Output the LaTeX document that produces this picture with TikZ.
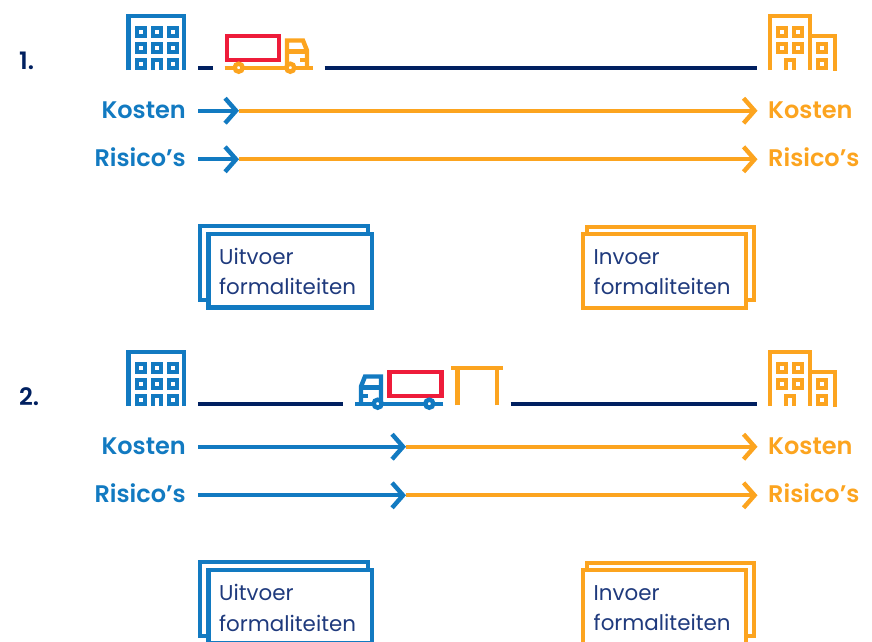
\documentclass[tikz,border=0pt]{standalone}
\usepackage{fontspec}
\setmainfont{Poppins}[BoldFont={Poppins SemiBold}]
\usetikzlibrary{arrows.meta}
\definecolor{bblue}{HTML}{127AC1}
\definecolor{oorange}{HTML}{FCA41F}
\definecolor{rred}{HTML}{EE1C3A}
\definecolor{nnavy}{HTML}{002060}
\definecolor{ttext}{HTML}{1F3A7D}
\tikzset{
    >={Straight Barb[length=11pt,width=25pt,line width=4.4pt]},
    wall/.style={line width=4.4pt},
    road/.style={line width=4.2pt, nnavy},
    flow/.style={line width=4.2pt, ->},
    cost/.style={font=\bfseries\fontsize{24}{28}\selectfont, inner sep=0pt},
    formal/.style={font=\fontsize{21.4}{30}\selectfont, text=ttext, align=left, inner sep=0pt, anchor=north west},
    % one window of a building
    pics/win/.style={code={\draw[wall] (-4,-4) rectangle (4,4);}},
    pics/exporter/.style={code={
        \draw[wall, bblue] (128.5,70) -- (128.5,16) -- (184,16) -- (184,70);
        \foreach \wx/\wy in {141/32,157/32,173/32,141/48,157/48,173/48,141/64,173/64}
            \pic[bblue] at (\wx,\wy) {win};
        \draw[wall, bblue] (153,70) -- (153,60) -- (161,60) -- (161,70);
    }},
    pics/importer/.style={code={
        \draw[wall, oorange] (770,70) -- (770,16) -- (810,16) -- (810,70);
        \draw[wall, oorange] (810,36) -- (835,36) -- (835,71);
        \foreach \wx/\wy in {782/32,798/32,782/48,798/48,822/48,822/64}
            \pic[oorange] at (\wx,\wy) {win};
        \draw[wall, oorange] (786,70) -- (786,60) -- (794,60) -- (794,70);
    }},
    % truck drawn with its nose to the right
    pics/truck/.style={code={
        \draw[wall, rred] (226.7,36) rectangle (278.7,60);
        \draw[wall, #1] (224.7,67.7) -- (312.7,67.7);
        \draw[wall, #1] (287,67) -- (287,40.5) -- (303,40.5) -- (307,50.5) -- (307,67);
        \draw[wall, #1] (287,51.5) -- (307,51.5);
        \draw[wall, #1] (300,60) -- (307,60);
        \draw[wall, #1, fill=white] (238.7,67.7) circle (4);
        \draw[wall, #1, fill=white] (290.3,67.7) circle (4);
    }},
}
\begin{document}
\begin{tikzpicture}[x=1pt, y=-1pt]
    \useasboundingbox (0,0) rectangle (872,641);
    \clip (0,0) rectangle (872,641);

    \foreach \n/\dy/\xt in {1/0/239, 2/336/406} {
    \begin{scope}[shift={(0,\dy)}]
        \node[cost, nnavy, anchor=west] (num\n) at (19,61) {\n.};
        \pic at (0,0) {exporter};
        \pic at (0,0) {importer};

        \node[cost, bblue, anchor=east] (kostenl\n) at (186,110) {Kosten};
        \node[cost, bblue, anchor=east] (risicol\n) at (186,157.5) {Risico’s};
        \node[cost, oorange, anchor=west] (kostenr\n) at (768,110) {Kosten};
        \node[cost, oorange, anchor=west] (risicor\n) at (768,157.5) {Risico’s};

        \coordinate (ka\n) at (198,110.7);
        \coordinate (kb\n) at (\xt,110.7);
        \coordinate (kc\n) at (757.5,110.7);
        \coordinate (ra\n) at (198,159.3);
        \coordinate (rb\n) at (\xt,159.3);
        \coordinate (rc\n) at (757.5,159.3);

        \draw[flow, oorange] (kb\n) -- (kc\n);      % rest of the way
        \draw[flow, bblue] (ka\n) -- (kb\n);        % up to the hand-over
        \draw[flow, oorange] (rb\n) -- (rc\n);
        \draw[flow, bblue] (ra\n) -- (rb\n);

        % stacked boxes
        \draw[wall, bblue] (200,226) rectangle (368,300);
        \draw[wall, bblue, fill=white] (208.5,234) rectangle (372,307.5);
        \node[formal] (uitvoer\n) at (219,248.5) {Uitvoer\\formaliteiten};
        \draw[wall, oorange] (587,227) rectangle (753.7,300);
        \draw[wall, oorange, fill=white] (583,234) rectangle (745.7,308);
        \node[formal] (invoer\n) at (593.5,249.3) {Invoer\\formaliteiten};
    \end{scope}
    }

    % first panel: truck still at the exporter
    \coordinate (roada1) at (198,67.7);
    \coordinate (roadb1) at (212.7,67.7);
    \coordinate (roadc1) at (324.7,67.7);
    \coordinate (roadd1) at (757,67.7);
    \draw[road] (roada1) -- (roadb1);
    \draw[road] (roadc1) -- (roadd1);
    \pic at (0,0) {truck=oorange};

    % second panel: truck at the gate
    \coordinate (roada2) at (198,403.7);
    \coordinate (roadb2) at (343.3,403.7);
    \coordinate (roadc2) at (510.7,403.7);
    \coordinate (roadd2) at (757,403.7);
    \draw[road] (roada2) -- (roadb2);
    \draw[road] (roadc2) -- (roadd2);
    \begin{scope}[shift={(668,336)}, xscale=-1]
        \pic[transform shape] at (0,0) {truck=bblue};
    \end{scope}
    \draw[wall, oorange] (457.3,405.3) -- (457.3,368);
    \draw[wall, oorange] (497,405.3) -- (497,368);
    \draw[wall, oorange] (451,368) -- (503.3,368);
\end{tikzpicture}
\end{document}
